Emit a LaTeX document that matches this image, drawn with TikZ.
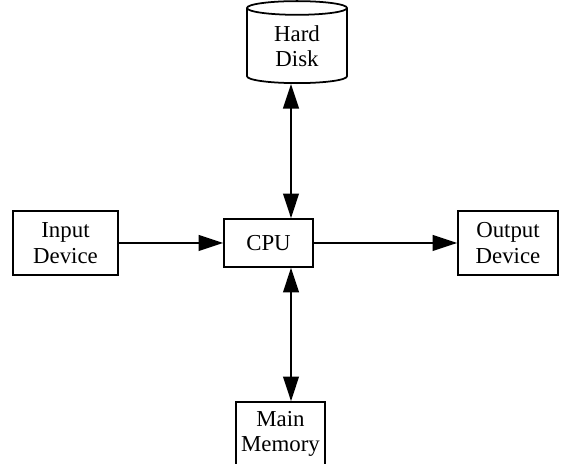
\documentclass[tikz,border=0pt]{standalone}
\usepackage{fontspec}
\setmainfont{Liberation Serif}
\usetikzlibrary{arrows.meta, shapes.geometric}

\begin{document}
\begin{tikzpicture}[
    unit/.style={draw, line width=1pt, align=center, inner sep=0pt,
      font=\fontsize{13}{14.5}\selectfont},
    link/.style={line width=1pt, -{Triangle[length=14pt, width=9pt]}},
    dlink/.style={line width=1pt,
      {Triangle[length=14pt, width=9pt]}-{Triangle[length=14pt, width=9pt]}}
  ]
  \useasboundingbox (0,0) rectangle (11.46,9.28);
  % Units
  \node[unit, minimum width=2.1cm, minimum height=1.28cm] (input) at (1.31,4.42) {Input\\Device};
  \node[unit, minimum width=1.78cm, minimum height=0.96cm] (cpu) at (5.37,4.42) {CPU};
  \node[unit, minimum width=2.0cm, minimum height=1.28cm] (output) at (10.16,4.42) {Output\\Device};
  \node[unit, minimum width=1.78cm, minimum height=1.28cm] (mem) at (5.61,0.6) {Main\\Memory};
  % Disk
  \node[unit, cylinder, shape border rotate=90, aspect=0.3,
    minimum width=2.0cm, minimum height=1.64cm] (disk) at (5.94,8.36) {Hard\\Disk};
  % Bus line
  \coordinate (bus) at (5.82,0);
  % Arrows
  \draw[link] (input) -- (cpu);
  \draw[link] (cpu) -- (output);
  \draw[dlink] (cpu.north -| bus) -- (disk.south -| bus);
  \draw[dlink] (cpu.south -| bus) -- (mem.north -| bus);
\end{tikzpicture}
\end{document}
